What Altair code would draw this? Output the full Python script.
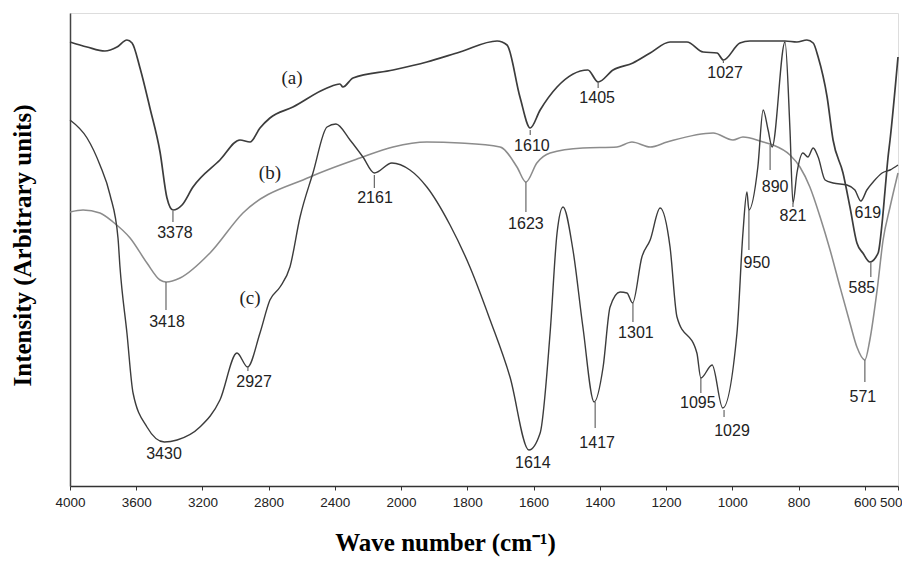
import altair as alt
import pandas as pd

# ---- spectra (wavenumber, intensity in arbitrary units) ----
a_wn = [4000, 3897, 3789, 3716, 3656, 3625, 3577, 3517, 3456, 3414,
        3378, 3323, 3257, 3094, 2973, 2912, 2852, 2792, 2653, 2447,
        2369, 2351, 2290, 2048, 1922, 1822, 1710, 1680, 1641, 1610,
        1580, 1529, 1436, 1405, 1360, 1300, 1248, 1188, 1137, 1088,
        1046, 1027, 977, 947, 841, 805, 775, 756, 741, 714,
        696, 666, 645, 624, 606, 585, 560, 548, 539, 530,
        524, 500]
a_int = [444, 439, 435, 439, 446, 443, 418, 378, 334, 288,
         276, 281, 299, 326, 346, 344, 358, 368, 379, 398,
         402, 399, 408, 416, 424, 434, 445, 441, 389, 358,
         376, 399, 416, 404, 416, 423, 433, 444, 444, 434,
         433, 426, 443, 445, 445, 444, 446, 443, 429, 389,
         346, 313, 279, 243, 233, 224, 233, 263, 296, 329,
         346, 429]

b_wn = [4000, 3921, 3819, 3740, 3637, 3535, 3456, 3418, 3335, 3154,
        2955, 2550, 2248, 2048, 1922, 1822, 1701, 1650, 1623, 1590,
        1550, 1451, 1348, 1303, 1248, 1197, 1058, 998, 968, 907,
        877, 826, 796, 766, 735, 705, 675, 645, 624, 600,
        585, 563, 545, 524, 500]
b_int = [274, 276, 273, 264, 248, 223, 206, 204, 208, 233,
         273, 309, 328, 339, 344, 343, 339, 319, 304, 323,
         333, 338, 339, 344, 339, 344, 353, 346, 349, 344,
         341, 331, 319, 299, 269, 236, 199, 163, 139, 126,
         146, 196, 246, 279, 313]

c_wn = [4000, 3897, 3819, 3758, 3710, 3698, 3656, 3619, 3535, 3430,
        3353, 3215, 3094, 2991, 2927, 2852, 2792, 2731, 2671, 2610,
        2532, 2447, 2393, 2308, 2230, 2161, 2055, 1973, 1922, 1852,
        1792, 1731, 1671, 1614, 1580, 1550, 1529, 1511, 1481, 1451,
        1417, 1390, 1369, 1339, 1318, 1301, 1273, 1248, 1218, 1188,
        1167, 1107, 1095, 1061, 1029, 986, 968, 956, 950, 923,
        907, 892, 880, 841, 826, 817, 805, 787, 772, 756,
        741, 720, 696, 654, 630, 612, 594, 575, 548, 524,
        500]
c_int = [366, 348, 321, 291, 248, 219, 153, 93, 59, 44,
         46, 59, 86, 133, 119, 153, 186, 199, 219, 269,
         313, 359, 362, 346, 329, 313, 323, 316, 299, 261,
         219, 166, 109, 36, 53, 153, 253, 279, 236, 159,
         84, 119, 179, 194, 193, 183, 229, 246, 278, 239,
         169, 133, 108, 121, 78, 153, 253, 294, 276, 319,
         376, 356, 339, 444, 356, 283, 313, 333, 329, 338,
         329, 306, 303, 301, 296, 285, 296, 304, 313, 316,
         321]

# ---- peak annotations ----
label_text = ["3378", "2161", "1610", "1405", "1027", "1623", "890", "821", "619", "3418",
              "2927", "3430", "1614", "1417", "1301", "1095", "1029", "950", "585", "571"]
label_wn = [3366, 2157, 1605, 1408, 1022, 1623, 871, 817, 591, 3414,
            2888, 3432, 1602, 1408, 1291, 1104, 1001, 926, 609, 606]
label_y = [253, 288, 340, 388, 413, 262, 299, 270, 273, 164,
           104, 32, 23, 43, 153, 83, 55, 223, 198, 89]

leader_wn = [3378, 2161, 1610, 1405, 1027, 1623, 886, 817, 3420, 2925,
             1414, 1300, 1095, 1025, 950, 582, 600]
leader_y1 = [275, 311, 356, 404, 426, 304, 341, 283, 204, 119,
             84, 183, 108, 76, 276, 224, 126]
leader_y2 = [264, 298, 351, 398, 423, 274, 316, 279, 176, 115,
             58, 164, 93, 69, 236, 209, 104]

series_text = ["(a)", "(b)", "(c)"]
series_wn = [2659, 2792, 2912]
series_y = [408, 313, 188]

tick_values = [4000, 3600, 3200, 2800, 2400, 2000, 1800, 1600, 1400, 1200, 1000, 800, 600, 500]

# ---- tables ----
rows = []
for name, wns, ints in (("a", a_wn, a_int), ("b", b_wn, b_int), ("c", c_wn, c_int)):
    for i, (w, v) in enumerate(zip(wns, ints)):
        rows.append({"series": name, "wn": w, "inten": v, "idx": i})
spec = pd.DataFrame(rows)
labels = pd.DataFrame({"t": label_text, "wn": label_wn, "y": label_y})
leaders = pd.DataFrame({"wn": leader_wn, "y1": leader_y1, "y2": leader_y2})
names = pd.DataFrame({"t": series_text, "wn": series_wn, "y": series_y})

xscale = alt.Scale(domain=[4000, 2000, 500], range=[0, 331, 828], zero=False, nice=False)
yscale = alt.Scale(domain=[0, 473], zero=False, nice=False)

x_axis = alt.Axis(
    values=tick_values, format="d", labelOverlap=False, labelBound=False, labelFlush=False,
    grid=False, labelFont="Liberation Sans", labelFontSize=13.5,
    labelColor="#222", labelPadding=5, tickSize=4, tickColor="#333", tickWidth=1,
    domainColor="#333", domainWidth=1.5,
    labelAlign=alt.condition("datum.value == 500", alt.value("right"), alt.value("center")),
    labelOffset=alt.condition("datum.value == 500", alt.value(4), alt.value(0)),
    title="Wave number (cm\u207b\u00b9)", titleFont="Liberation Serif", titleFontSize=25,
    titleFontWeight="bold", titleColor="#000", titleX=375, titleY=64,
    titleAlign="center", titleBaseline="alphabetic",
)
y_axis = alt.Axis(
    labels=False, ticks=False, grid=False, domainColor="#444", domainWidth=1.5,
    title="Intensity (Arbitrary units)", titleFont="Liberation Serif", titleFontSize=25,
    titleFontWeight="bold", titleColor="#000", titleX=-48, titleY=232, titleAngle=270,
    titleAlign="center", titleBaseline="middle",
)

lines = alt.Chart(spec).mark_line(interpolate="monotone").encode(
    x=alt.X("wn:Q", scale=xscale, axis=x_axis),
    y=alt.Y("inten:Q", scale=yscale, axis=y_axis),
    detail="series:N",
    order="idx:Q",
    color=alt.Color("series:N", scale=alt.Scale(domain=["a", "b", "c"],
                                                range=["#3c3c3c", "#8c8c8c", "#3c3c3c"]), legend=None),
    strokeWidth=alt.StrokeWidth("series:N", scale=alt.Scale(domain=["a", "b", "c"],
                                                            range=[1.7, 1.4, 1.7]), legend=None),
)

rules = alt.Chart(leaders).mark_rule(color="#666", strokeWidth=1.2).encode(
    x=alt.X("wn:Q", scale=xscale),
    y=alt.Y("y1:Q", scale=yscale),
    y2="y2:Q",
)

peak_text = alt.Chart(labels).mark_text(
    font="Liberation Sans", fontSize=16, color="#222", align="center", baseline="middle"
).encode(
    x=alt.X("wn:Q", scale=xscale),
    y=alt.Y("y:Q", scale=yscale),
    text="t:N",
)

name_text = alt.Chart(names).mark_text(
    font="Liberation Serif", fontSize=19, color="#222", align="center", baseline="middle"
).encode(
    x=alt.X("wn:Q", scale=xscale),
    y=alt.Y("y:Q", scale=yscale),
    text="t:N",
)

chart = alt.layer(lines, rules, peak_text, name_text).properties(
    width=828, height=473,
    autosize=alt.AutoSizeParams(type="none"),
    padding={"left": 62, "top": 5, "right": 4, "bottom": 71},
).configure_view(stroke="transparent").configure(background="white")

chart.save("out.html", embed_options={"renderer": "svg", "actions": False})
